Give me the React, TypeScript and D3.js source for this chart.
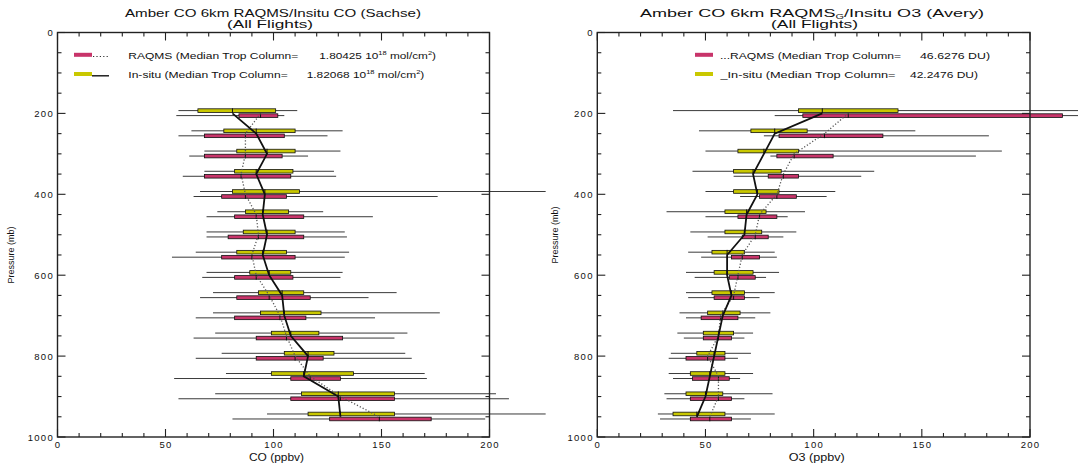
import React from 'react';
import * as d3 from 'd3';

// Pressure levels (mb)
const levels = [200, 250, 300, 350, 400, 450, 500, 550, 600, 650, 700, 750, 800, 850, 900, 950];

// CO panel: [whiskerLow, q1, median, q3, whiskerHigh] (ppbv)
const coInsitu = [
  [56, 65, 81, 101, 111],
  [62, 77, 92, 110, 132],
  [68, 83, 97, 110, 131],
  [68, 82, 92, 109, 128],
  [66, 81, 96, 112, 226],
  [74, 87, 95, 107, 123],
  [69, 86, 97, 110, 133],
  [64, 83, 95, 106, 135],
  [69, 89, 98, 108, 132],
  [72, 93, 104, 114, 157],
  [72, 94, 105, 122, 177],
  [73, 99, 108, 121, 162],
  [76, 105, 116, 128, 161],
  [78, 99, 114, 137, 170],
  [73, 113, 130, 156, 203],
  [97, 116, 131, 156, 226],
];
const coRaqms = [
  [55, 84, 94, 102, 105],
  [56, 68, 87, 105, 125],
  [61, 68, 87, 104, 116],
  [58, 68, 85, 108, 129],
  [63, 76, 87, 106, 176],
  [69, 82, 92, 114, 146],
  [69, 79, 93, 114, 134],
  [53, 76, 90, 110, 133],
  [67, 82, 92, 109, 131],
  [66, 83, 98, 117, 144],
  [64, 82, 103, 115, 147],
  [63, 92, 106, 132, 156],
  [64, 92, 110, 123, 164],
  [54, 108, 117, 131, 171],
  [56, 108, 131, 156, 209],
  [81, 126, 149, 173, 198],
];

// O3 panel
const o3Insitu = [
  [35, 93, 104, 139, 230],
  [47, 71, 82, 97, 147],
  [50, 65, 77, 93, 187],
  [44, 63, 72, 85, 128],
  [50, 63, 74, 84, 110],
  [32, 59, 69, 78, 96],
  [43, 59, 68, 76, 92],
  [42, 53, 60, 68, 82],
  [41, 54, 60, 72, 84],
  [41, 53, 62, 68, 82],
  [38, 51, 58, 66, 80],
  [37, 49, 56, 63, 72],
  [34, 46, 54, 59, 71],
  [33, 43, 52, 59, 72],
  [31, 41, 50, 58, 81],
  [28, 35, 46, 59, 82],
];
const o3Raqms = [
  [82, 95, 116, 215, 230],
  [77, 84, 105, 132, 181],
  [80, 83, 91, 109, 175],
  [63, 79, 86, 93, 122],
  [66, 75, 83, 92, 106],
  [50, 65, 75, 83, 88],
  [51, 67, 73, 79, 86],
  [48, 62, 67, 75, 83],
  [45, 61, 65, 73, 78],
  [42, 54, 63, 68, 75],
  [41, 48, 57, 65, 73],
  [40, 49, 56, 62, 68],
  [33, 41, 51, 59, 65],
  [35, 44, 56, 61, 66],
  [32, 43, 56, 62, 68],
  [29, 43, 52, 62, 71],
];

const xTicks = d3.range(0, 201, 10);
const yTicks = d3.range(0, 1001, 50);
const xTickLabels = ['0', '50', '100', '150', '200'];
const yTickLabels = ['0', '200', '400', '600', '800', '1000'];

const YELLOW = '#c9c800';
const RED = '#c8346a';
const FONT = '"Liberation Sans", Arial, Helvetica, sans-serif';

type Row = number[];

function Panel(props: {
  left: number; right: number; insitu: Row[]; raqms: Row[]; xLabel: string;
  xLabelW: number;
}) {
  const { left, right, insitu, raqms, xLabel, xLabelW } = props;
  const x = d3.scaleLinear().domain([0, 200]).range([left, right]);
  const y = d3.scaleLinear().domain([0, 1000]).range([32.5, 437]);
  const top = y(0), bottom = y(1000);
  const bh = 3.6;
  const offIn = -2.8, offRa = 2.2;

  const solid = d3.line<number>().x((_, i) => x(insitu[i][2])).y((p) => y(p));
  const dotted = d3.line<number>().x((_, i) => x(raqms[i][2])).y((p) => y(p));

  const boxes = (rows: Row[], off: number, fill: string) =>
    rows.map((r, i) => {
      const cy = y(levels[i]) + off;
      return (
        <g key={fill + i}>
          <line x1={x(r[0])} x2={x(r[4])} y1={cy} y2={cy} stroke="#3a3a3a" strokeWidth={1} />
          <rect x={x(r[1])} y={cy - bh / 2} width={x(r[3]) - x(r[1])} height={bh}
            fill={fill} stroke="#111" strokeWidth={0.8} />
          <line x1={x(r[2])} x2={x(r[2])} y1={cy - bh / 2 - 0.5} y2={cy + bh / 2 + 0.5}
            stroke="#111" strokeWidth={1} />
        </g>
      );
    });

  return (
    <g>
      {boxes(insitu, offIn, YELLOW)}
      {boxes(raqms, offRa, RED)}
      <path d={dotted(levels) || ''} fill="none" stroke="#555" strokeWidth={1.3} strokeDasharray="1.2,2" />
      <path d={solid(levels) || ''} fill="none" stroke="#111" strokeWidth={1.8} />
      {/* frame */}
      <rect x={left} y={top} width={right - left} height={bottom - top} fill="none" stroke="#222" strokeWidth={1.4} />
      {xTicks.map((t) => {
        const len = t % 50 === 0 ? 8 : 4;
        return (
          <g key={'xt' + t}>
            <line x1={x(t)} x2={x(t)} y1={bottom} y2={bottom - len} stroke="#222" strokeWidth={1.1} />
            <line x1={x(t)} x2={x(t)} y1={top} y2={top + len} stroke="#222" strokeWidth={1.1} />
          </g>
        );
      })}
      {yTicks.map((t) => {
        const len = t % 200 === 0 ? 8 : 4;
        return (
          <g key={'yt' + t}>
            <line x1={left} x2={left + len} y1={y(t)} y2={y(t)} stroke="#222" strokeWidth={1.1} />
            <line x1={right} x2={right - len} y1={y(t)} y2={y(t)} stroke="#222" strokeWidth={1.1} />
          </g>
        );
      })}
      {xTickLabels.map((l) => (
        <text key={'xl' + l} x={x(+l) + 0.6} y={448} textAnchor="middle" fontSize={9.5}
          letterSpacing={1.3} fontFamily={FONT} fill="#111">{l}</text>
      ))}
      {yTickLabels.map((l) => (
        <text key={'yl' + l} x={left - 3.5} y={y(+l) + 3.5} textAnchor="end" fontSize={9.5}
          letterSpacing={1.3} fontFamily={FONT} fill="#111">{l}</text>
      ))}
      <text x={(left + right) / 2 + 3} y={461} textAnchor="middle" fontSize={10} fontFamily={FONT}
        textLength={xLabelW} lengthAdjust="spacingAndGlyphs" fill="#111">{xLabel}</text>
    </g>
  );
}

export default function App() {
  return (
    <svg width={1078} height={465} style={{ position: 'absolute', left: 0, top: 0, background: '#fff' }}
      fontFamily={FONT}>
      <rect x={0} y={0} width={1078} height={465} fill="#fff" />
      {/* Titles */}
      <text x={125} y={17} fontSize={11.5} textLength={296} lengthAdjust="spacingAndGlyphs" fill="#111">
        Amber CO 6km RAQMS/Insitu CO (Sachse)
      </text>
      <text x={227} y={27.5} fontSize={11.5} textLength={86} lengthAdjust="spacingAndGlyphs" fill="#111">
        (All Flights)
      </text>
      <text x={640} y={17} fontSize={11.5} textLength={344} lengthAdjust="spacingAndGlyphs" fill="#111">
        Amber CO 6km RAQMS<tspan fontSize={7} dy={2}>G</tspan><tspan dy={-2}>/Insitu O3 (Avery)</tspan>
      </text>
      <text x={771} y={27.5} fontSize={11.5} textLength={87} lengthAdjust="spacingAndGlyphs" fill="#111">
        (All Flights)
      </text>

      {/* Y axis titles */}
      <text transform="translate(14,255) rotate(-90)" textAnchor="middle" fontSize={9} fill="#111">
        Pressure (mb)
      </text>
      <text transform="translate(558,235) rotate(-90)" textAnchor="middle" fontSize={9} fill="#111">
        Pressure (mb)
      </text>

      <Panel left={57.5} right={489.5} insitu={coInsitu} raqms={coRaqms} xLabel="CO (ppbv)" xLabelW={55} />
      <Panel left={597.3} right={1030} insitu={o3Insitu} raqms={o3Raqms} xLabel="O3 (ppbv)" xLabelW={56} />

      {/* Left legend */}
      <rect x={74} y={52.8} width={18} height={4} fill={RED} />
      <line x1={93} x2={109} y1={56.5} y2={56.5} stroke="#333" strokeWidth={1.2} strokeDasharray="1.2,2.2" />
      <text x={128.3} y={58.5} fontSize={9.5} textLength={170} lengthAdjust="spacingAndGlyphs" fill="#111">
        RAQMS (Median Trop Column=
      </text>
      <text x={319.3} y={58.5} fontSize={9.5} textLength={116.7} lengthAdjust="spacingAndGlyphs" fill="#111">
        1.80425 10<tspan fontSize={6} dy={-3.5}>18</tspan><tspan dy={3.5}> mol/cm</tspan><tspan fontSize={6} dy={-3.5}>2</tspan><tspan dy={3.5}>)</tspan>
      </text>
      <rect x={74} y={72} width={18} height={4} fill={YELLOW} />
      <line x1={92} x2={109} y1={75.8} y2={75.8} stroke="#111" strokeWidth={1.4} />
      <text x={128.3} y={77.8} fontSize={9.5} textLength={159.4} lengthAdjust="spacingAndGlyphs" fill="#111">
        In-situ (Median Trop Column=
      </text>
      <text x={306.7} y={77.8} fontSize={9.5} textLength={117.6} lengthAdjust="spacingAndGlyphs" fill="#111">
        1.82068 10<tspan fontSize={6} dy={-3.5}>18</tspan><tspan dy={3.5}> mol/cm</tspan><tspan fontSize={6} dy={-3.5}>2</tspan><tspan dy={3.5}>)</tspan>
      </text>

      {/* Right legend */}
      <rect x={695} y={52.8} width={18} height={4} fill={RED} />
      <text x={720} y={58.5} fontSize={9.5} textLength={181} lengthAdjust="spacingAndGlyphs" fill="#111">
        ...RAQMS (Median Trop Column=
      </text>
      <text x={920} y={58.5} fontSize={9.5} textLength={70} lengthAdjust="spacingAndGlyphs" fill="#111">
        46.6276 DU)
      </text>
      <rect x={695} y={72} width={18} height={4} fill={YELLOW} />
      <text x={720.5} y={77.8} fontSize={9.5} textLength={175} lengthAdjust="spacingAndGlyphs" fill="#111">
        _In-situ (Median Trop Column=
      </text>
      <text x={910} y={77.8} fontSize={9.5} textLength={68} lengthAdjust="spacingAndGlyphs" fill="#111">
        42.2476 DU)
      </text>
    </svg>
  );
}
